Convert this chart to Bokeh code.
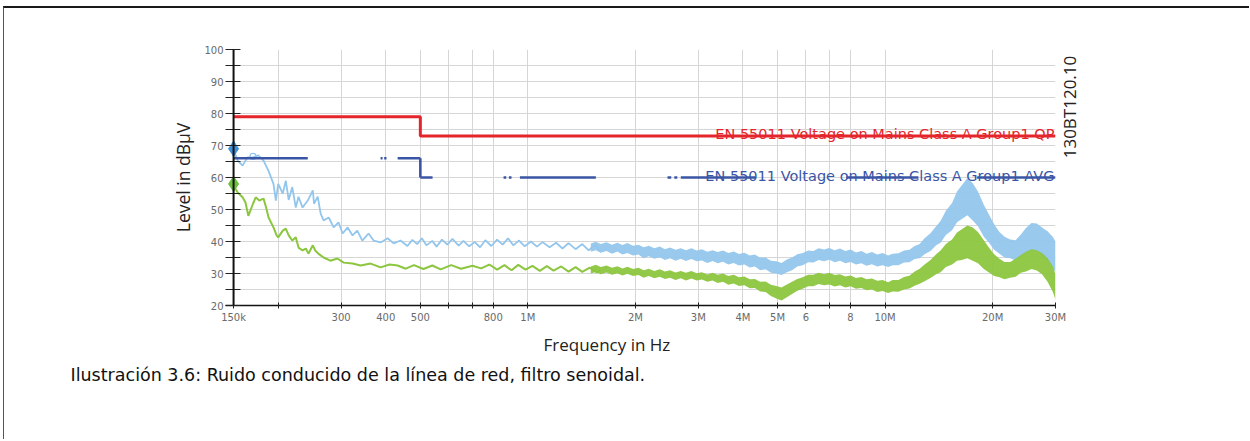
import numpy as np
from bokeh.plotting import figure
from bokeh.models import FixedTicker, Range1d, Span, Title, LinearAxis, Label
from bokeh.embed import file_html
from bokeh.resources import INLINE

# ---- measured spectrum, peak detector (light blue), low band as a trace (kHz, dBuV)
peak_khz = [150, 152, 154, 159, 164, 170, 176, 182, 188, 194, 197, 200, 206, 210, 214, 219,
            224, 228, 234, 242, 250, 252, 258, 263, 268, 277, 286, 295, 303, 313, 323, 333,
            344, 358, 370, 387, 405, 421, 440, 460, 475, 490, 505, 520, 540, 555, 575, 595,
            615, 640, 660, 685, 710, 735, 760, 790, 820, 850, 880, 910, 945, 980, 1020, 1060,
            1100, 1150, 1200, 1250, 1300, 1360, 1420, 1480, 1540, 1600]
peak_db = [69.0, 67.0, 65.3, 63.7, 66.3, 66.3, 66.9, 65.3, 62.0, 58.0, 52.8, 58.0, 55.0, 59.0, 53.0, 57.0,
           50.6, 54.0, 50.6, 52.8, 56.0, 51.8, 54.0, 48.7, 46.6, 47.5, 44.4, 46.0, 42.5, 44.4, 41.9, 43.4,
           40.3, 42.5, 40.3, 39.7, 41.0, 39.4, 40.3, 38.6, 40.5, 39.2, 41.0, 38.8, 40.2, 38.4, 40.6, 39.0,
           40.8, 38.7, 40.2, 38.5, 39.8, 38.2, 40.4, 38.6, 40.6, 39.0, 41.0, 38.8, 40.3, 38.5, 40.0, 38.4,
           39.8, 38.2, 39.6, 37.8, 39.5, 37.6, 39.2, 37.2, 39.0, 36.8]

# ---- measured spectrum, average detector (green), low band as a trace (kHz, dBuV)
avg_khz = [150, 154, 159, 162, 165, 170, 173, 177, 182, 185, 188, 194, 198, 200, 206, 210,
           214, 219, 224, 228, 234, 239, 243, 250, 254, 259, 268, 280, 293, 305, 323, 340,
           363, 387, 410, 432, 455, 480, 510, 540, 570, 610, 650, 700, 740, 780, 820, 860,
           900, 940, 985, 1030, 1080, 1130, 1180, 1240, 1300, 1360, 1420, 1490, 1560, 1600]
avg_db = [57.5, 55.3, 53.8, 52.2, 48.0, 51.8, 53.8, 52.8, 53.4, 50.6, 47.5, 44.4, 41.9, 41.3, 43.4, 44.0,
          41.9, 40.3, 41.3, 38.1, 37.2, 37.8, 36.2, 38.8, 37.2, 36.2, 35.0, 34.0, 34.7, 33.4, 33.1, 32.5,
          33.1, 31.9, 32.8, 32.5, 31.5, 32.6, 31.4, 32.5, 31.3, 32.6, 31.5, 32.4, 31.6, 32.8, 31.2, 32.6,
          31.0, 32.7, 31.2, 32.4, 30.8, 32.3, 30.9, 32.2, 30.6, 32.0, 30.5, 31.8, 30.3, 31.2]

# ---- dense upper band: min / max envelope per frequency (MHz, dBuV)
band_mhz = [1.50, 1.55, 1.60, 1.66, 1.72, 1.78, 1.84, 1.90, 1.97, 2.04,
            2.11, 2.18, 2.26, 2.34, 2.42, 2.50, 2.59, 2.68, 2.77, 2.87,
            2.97, 3.07, 3.18, 3.29, 3.40, 3.52, 3.64, 3.77, 3.90, 4.04,
            4.18, 4.32, 4.47, 4.63, 4.79, 4.96, 5.13, 5.31, 5.49, 5.68,
            5.88, 6.09, 6.30, 6.52, 6.75, 6.98, 7.23, 7.48, 7.74, 8.01,
            8.29, 8.58, 8.88, 9.19, 9.51, 9.84, 10.2, 10.5, 10.9, 11.3,
            11.7, 12.1, 12.5, 12.9, 13.4, 13.9, 14.3, 14.8, 15.4, 15.9,
            16.4, 17.0, 17.6, 18.2, 18.9, 19.5, 20.2, 20.9, 21.6, 22.4,
            23.2, 24.0, 24.8, 25.7, 26.6, 27.5, 28.5, 29.5, 30.0]
peak_lo = [36.8, 37.3, 36.5, 37.0, 36.2, 36.9, 35.9, 36.4, 35.6, 35.9,
           34.8, 35.4, 34.6, 35.1, 34.2, 34.8, 34.0, 34.6, 33.9, 34.5,
           33.8, 34.1, 33.3, 33.9, 33.2, 33.7, 32.8, 33.3, 32.5, 32.8,
           31.9, 32.2, 31.0, 31.3, 30.2, 30.0, 29.5, 30.4, 31.0, 32.2,
           32.6, 33.5, 33.4, 34.2, 33.8, 34.3, 33.5, 34.0, 33.2, 33.6,
           32.8, 33.2, 32.4, 32.9, 32.2, 32.6, 32.0, 32.6, 32.6, 33.4,
           33.5, 34.5, 34.8, 36.0, 37.0, 38.8, 39.6, 42.0, 43.5, 46.0,
           47.0, 48.2, 46.6, 44.8, 41.5, 39.8, 37.4, 36.2, 35.0, 34.8,
           34.1, 35.2, 36.2, 37.2, 36.9, 35.6, 33.8, 31.6, 30.5]
peak_hi = [39.4, 39.9, 39.2, 39.8, 39.0, 39.6, 38.9, 39.5, 38.7, 39.0,
           38.2, 38.7, 37.9, 38.4, 37.6, 38.1, 37.4, 37.9, 37.3, 37.9,
           37.2, 37.6, 36.8, 37.3, 36.7, 37.2, 36.4, 36.9, 36.1, 36.5,
           35.6, 35.9, 34.9, 35.0, 34.0, 33.8, 33.3, 34.4, 35.0, 36.0,
           36.4, 37.2, 37.0, 37.9, 37.5, 38.0, 37.3, 37.8, 37.0, 37.5,
           36.6, 37.0, 36.2, 36.7, 35.9, 36.4, 35.6, 36.2, 36.3, 37.2,
           37.4, 38.6, 39.2, 41.0, 42.6, 44.8, 46.4, 49.6, 52.0, 55.6,
           57.6, 59.8, 58.2, 55.6, 51.5, 48.6, 45.4, 43.0, 41.5, 40.6,
           40.4, 42.2, 44.2, 45.8, 45.6, 44.4, 43.2, 41.4, 40.0]
avg_lo = [30.0, 30.5, 29.8, 30.3, 29.6, 30.1, 29.4, 29.9, 29.2, 29.5,
          28.7, 29.2, 28.5, 29.0, 28.3, 28.7, 28.0, 28.5, 27.8, 28.4,
          27.8, 28.1, 27.4, 27.8, 27.0, 27.4, 26.5, 26.9, 26.1, 26.3,
          25.4, 25.5, 24.4, 24.2, 23.0, 22.2, 21.6, 22.6, 23.6, 24.6,
          25.2, 26.0, 26.0, 26.7, 26.3, 26.6, 25.9, 26.3, 25.6, 26.0,
          25.2, 25.5, 24.8, 25.0, 24.2, 24.5, 23.9, 24.4, 24.3, 25.0,
          25.3, 26.2, 26.8, 27.6, 28.6, 29.8, 30.4, 32.0, 32.8, 34.0,
          34.2, 34.8, 34.0, 33.2, 31.4, 30.4, 29.2, 28.8, 28.2, 28.7,
          29.0, 30.2, 30.6, 31.4, 30.9, 29.8, 27.4, 24.2, 21.8]
avg_hi = [32.2, 32.7, 32.0, 32.5, 31.8, 32.3, 31.6, 32.1, 31.4, 31.8,
          31.0, 31.5, 30.8, 31.3, 30.6, 31.0, 30.3, 30.8, 30.2, 30.8,
          30.1, 30.4, 29.7, 30.2, 29.6, 30.0, 29.2, 29.6, 28.8, 29.1,
          28.2, 28.3, 27.4, 27.5, 26.5, 26.1, 25.6, 26.6, 27.4, 28.3,
          28.8, 29.6, 29.6, 30.2, 29.8, 30.2, 29.5, 29.8, 29.1, 29.4,
          28.6, 28.9, 28.2, 28.4, 27.7, 28.0, 27.3, 28.0, 28.0, 28.9,
          29.3, 30.6, 31.5, 32.8, 34.2, 36.0, 37.2, 39.2, 40.6, 42.8,
          43.8, 45.0, 44.4, 43.0, 40.4, 38.2, 36.0, 34.6, 33.6, 33.6,
          34.6, 35.8, 36.8, 37.6, 37.3, 36.4, 34.8, 32.2, 29.8]

# ---- EN 55011 class A group 1 limits
qp_limit_khz = [150, 500, 500, 30000]
qp_limit_db = [79, 79, 73, 73]
# AVG limit is drawn as broken pieces: start kHz, end kHz, start dB, end dB
avg_lim_x0 = [150, 387, 396, 432, 500, 500, 855, 885, 950, 2460, 2570, 2680, 7790, 18100]
avg_lim_x1 = [242, 392, 402, 500, 500, 541, 870, 900, 1550, 2520, 2620, 4340, 12400, 30000]
avg_lim_y0 = [66, 66, 66, 66, 66, 60, 60, 60, 60, 60, 60, 60, 60, 60]
avg_lim_y1 = [66, 66, 66, 66, 60, 60, 60, 60, 60, 60, 60, 60, 60, 60]

# ---- detector start markers (kHz, dBuV)
marker_khz = [150, 150]
marker_db = [69, 58]

x_ticks = [150e3, 200e3, 300e3, 400e3, 500e3, 600e3, 700e3, 800e3, 1e6, 2e6, 3e6, 4e6,
           5e6, 6e6, 7e6, 8e6, 10e6, 20e6, 30e6]
x_tick_labels = ["150k", "", "300", "400", "500", "", "", "800", "1M", "2M", "3M", "4M",
                 "5M", "6", "", "8", "10M", "20M", "30M"]
y_ticks = list(range(20, 101, 5))

LIGHT_BLUE = "#93c6ec"
GREEN = "#8cc63f"
RED = "#e4252b"
NAVY = "#3a55a5"
TICK_GREY = "#6a6a6a"
# height (in dBuV) at which the figure code starts on the right-hand side
CODE_LABEL_DB = 66

# frame starts a few pixels left of 150 kHz so the start markers are not cut off
p = figure(width=1246, height=433, x_axis_type="log",
           x_range=Range1d(142.4e3, 30e6), y_range=Range1d(20, 100),
           output_backend="svg", toolbar_location=None,
           min_border_left=221, min_border_right=195, min_border_top=41, min_border_bottom=136)
p.outline_line_color = None
p.background_fill_color = "white"
p.border_fill_color = "white"
# page frame lines (top and left)
p.styles = {"margin-left": "3px", "margin-top": "6px",
            "border-top": "2px solid #1a1a1a", "border-left": "1px solid #555555"}

# x axis
xa = p.xaxis[0]
xa.ticker = FixedTicker(ticks=x_ticks)
xa.major_label_overrides = {t: s for t, s in zip(x_ticks, x_tick_labels)}
xa.minor_tick_line_color = None
xa.major_tick_in = 3
xa.major_tick_out = 3
xa.axis_line_color = "#111111"
xa.axis_line_width = 1.5
xa.major_tick_line_color = "#222222"
xa.major_label_text_font = "DejaVu Sans"
xa.major_label_text_font_size = "10px"
xa.major_label_text_color = TICK_GREY
xa.major_label_standoff = 3

# y axis: the axis line itself is the span at 150 kHz
ya = p.yaxis[0]
ya.ticker = FixedTicker(ticks=y_ticks)
ya.major_label_overrides = {t: (str(t) if t % 10 == 0 else "") for t in y_ticks}
ya.minor_tick_line_color = None
ya.major_tick_in = 15
ya.major_tick_out = 0
ya.axis_line_color = None
ya.major_tick_line_color = "#222222"
ya.major_label_text_font = "DejaVu Sans"
ya.major_label_text_font_size = "10px"
ya.major_label_text_color = TICK_GREY
ya.major_label_standoff = 2
ya.axis_label = "Level in dBµV"
ya.axis_label_text_font = "Open Sans"
ya.axis_label_text_font_size = "17.5px"
ya.axis_label_text_font_style = "normal"
ya.axis_label_text_color = "#222222"
ya.axis_label_standoff = 6

p.xgrid[0].ticker = FixedTicker(ticks=x_ticks)
p.ygrid[0].ticker = FixedTicker(ticks=y_ticks)
for g in (p.xgrid[0], p.ygrid[0]):
    g.grid_line_color = "#d6d6d6"
    g.grid_line_width = 1

# measured traces
pk_f = np.array(peak_khz) * 1e3
av_f = np.array(avg_khz) * 1e3
bd_f = np.array(band_mhz) * 1e6
p.line(pk_f, peak_db, line_color=LIGHT_BLUE, line_width=1.8)
p.varea(x=bd_f, y1=peak_lo, y2=peak_hi, fill_color=LIGHT_BLUE, fill_alpha=0.95)
p.line(av_f, avg_db, line_color=GREEN, line_width=2.0)
p.varea(x=bd_f, y1=avg_lo, y2=avg_hi, fill_color=GREEN, fill_alpha=0.95)
p.scatter([170e3], [66.6], marker="circle", size=6, fill_color=None, line_color=LIGHT_BLUE, line_width=1.2)

p.add_layout(Span(location=150e3, dimension="height", line_color="#111111", line_width=2))

# limit lines
p.line(np.array(qp_limit_khz) * 1e3, qp_limit_db, line_color=RED, line_width=3)
p.segment(x0=np.array(avg_lim_x0) * 1e3, y0=avg_lim_y0, x1=np.array(avg_lim_x1) * 1e3, y1=avg_lim_y1,
          line_color=NAVY, line_width=2.6)

p.scatter(np.array(marker_khz[:1]) * 1e3, marker_db[:1], marker="diamond", size=15,
          fill_color="#3d8fd9", line_color="#3d8fd9")
p.scatter(np.array(marker_khz[1:]) * 1e3, marker_db[1:], marker="diamond", size=15,
          fill_color="#6dbf3c", line_color="#6dbf3c")

# limit captions
p.add_layout(Label(x=30e6, y=73.5, x_offset=-1, text="EN 55011 Voltage on Mains Class A Group1 QP",
                   text_align="right", text_baseline="alphabetic", text_font="DejaVu Sans",
                   text_font_size="14.5px", text_color=RED))
p.add_layout(Label(x=30e6, y=60.4, x_offset=-1, text="EN 55011 Voltage on Mains Class A Group1 AVG",
                   text_align="right", text_baseline="alphabetic", text_font="DejaVu Sans",
                   text_font_size="14.5px", text_color=NAVY))

# figure code on the right-hand side
code_axis = LinearAxis(ticker=FixedTicker(ticks=[CODE_LABEL_DB]),
                       major_label_overrides={CODE_LABEL_DB: "130BT120.10"},
                       major_label_orientation=np.pi / 2, axis_line_color=None,
                       major_tick_line_color=None, minor_tick_line_color=None,
                       major_tick_out=0, major_tick_in=0, major_label_standoff=14,
                       major_label_text_font="Open Sans", major_label_text_font_size="17px",
                       major_label_text_color="#222222")
p.add_layout(code_axis, "right")

# x axis title and caption
p.add_layout(Title(text="Frequency in Hz", align="left", offset=318, standoff=10,
                   text_font="Open Sans", text_font_size="17px", text_font_style="normal",
                   text_color="#222222"), "below")
p.add_layout(Title(text="Ilustración 3.6: Ruido conducido de la línea de red, filtro senoidal.",
                   align="left", offset=-155, standoff=4, text_font="DejaVu Sans",
                   text_font_size="17.5px", text_font_style="normal", text_color="#111111"), "below")

open("out.html", "w").write(file_html(p, INLINE))
